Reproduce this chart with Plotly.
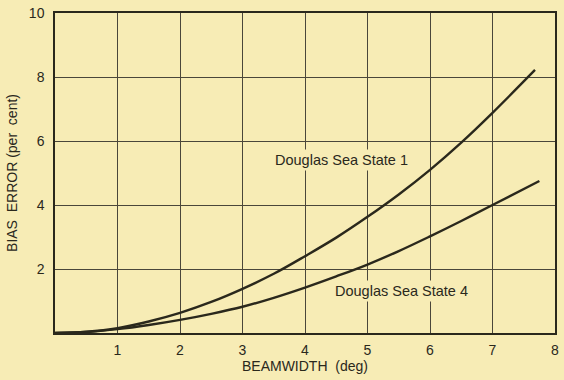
import plotly.graph_objects as go

# Beamwidth (deg) sample points for each curve
beamwidth_ss1 = [0, 0.5, 1, 1.5, 2, 2.5, 3, 3.5, 4, 4.5, 5, 5.5, 6, 6.5, 7, 7.68]
bias_ss1 = [0, 0.04, 0.15, 0.36, 0.63, 0.97, 1.38, 1.85, 2.4, 2.98, 3.63, 4.33, 5.1, 5.95, 6.88, 8.22]

beamwidth_ss4 = [0, 0.5, 1, 1.5, 2, 2.5, 3, 3.5, 4, 4.5, 5, 5.5, 6, 6.5, 7, 7.75]
bias_ss4 = [0, 0.03, 0.12, 0.25, 0.41, 0.6, 0.82, 1.1, 1.42, 1.77, 2.14, 2.56, 3.02, 3.5, 4.0, 4.75]

x_ticks = [1, 2, 3, 4, 5, 6, 7, 8]
y_ticks = [2, 4, 6, 8, 10]

curve_labels = ["Douglas Sea State 1", "Douglas Sea State 4"]
label_pos_x = [4.59, 5.54]
label_pos_y = [5.41, 1.31]

ink = "#2a281c"
paper = "#f7ecb5"
font_family = "Liberation Sans, Arial, sans-serif"

fig = go.Figure()
for xs, ys in [(beamwidth_ss1, bias_ss1), (beamwidth_ss4, bias_ss4)]:
    fig.add_trace(go.Scatter(
        x=xs, y=ys, mode="lines",
        line=dict(color=ink, width=2.4, shape="spline", smoothing=1.0),
        hoverinfo="skip", showlegend=False,
    ))

for text, lx, ly in zip(curve_labels, label_pos_x, label_pos_y):
    fig.add_annotation(
        x=lx, y=ly, text=text, showarrow=False,
        font=dict(family=font_family, size=14.5, color=ink),
        bgcolor=paper, borderpad=2,
    )

axis_common = dict(
    showgrid=True, gridcolor="#4a463a", gridwidth=1,
    showline=True, linecolor=ink, linewidth=1.5, mirror=True,
    zeroline=False, ticks="", color=ink,
    tickfont=dict(family=font_family, size=14, color=ink),
)

fig.update_xaxes(
    range=[0, 8], tickvals=x_ticks, ticktext=[str(v) for v in x_ticks],
    title=dict(text="BEAMWIDTH&nbsp;&nbsp;(deg)", standoff=4,
               font=dict(family=font_family, size=14, color=ink)),
    ticklabelstandoff=3,
    **axis_common,
)
fig.update_yaxes(
    range=[0, 10], tickvals=y_ticks, ticktext=[str(v) for v in y_ticks],
    title=dict(text="BIAS&nbsp;&nbsp;ERROR (per&nbsp;&nbsp;cent)", standoff=8,
               font=dict(family=font_family, size=14, color=ink)),
    ticklabelstandoff=6,
    **axis_common,
)

fig.update_layout(
    width=564, height=380,
    margin=dict(l=55, r=5, t=13, b=47),
    paper_bgcolor=paper, plot_bgcolor=paper,
    font=dict(family=font_family, color=ink),
)

fig.write_html("out.html")
